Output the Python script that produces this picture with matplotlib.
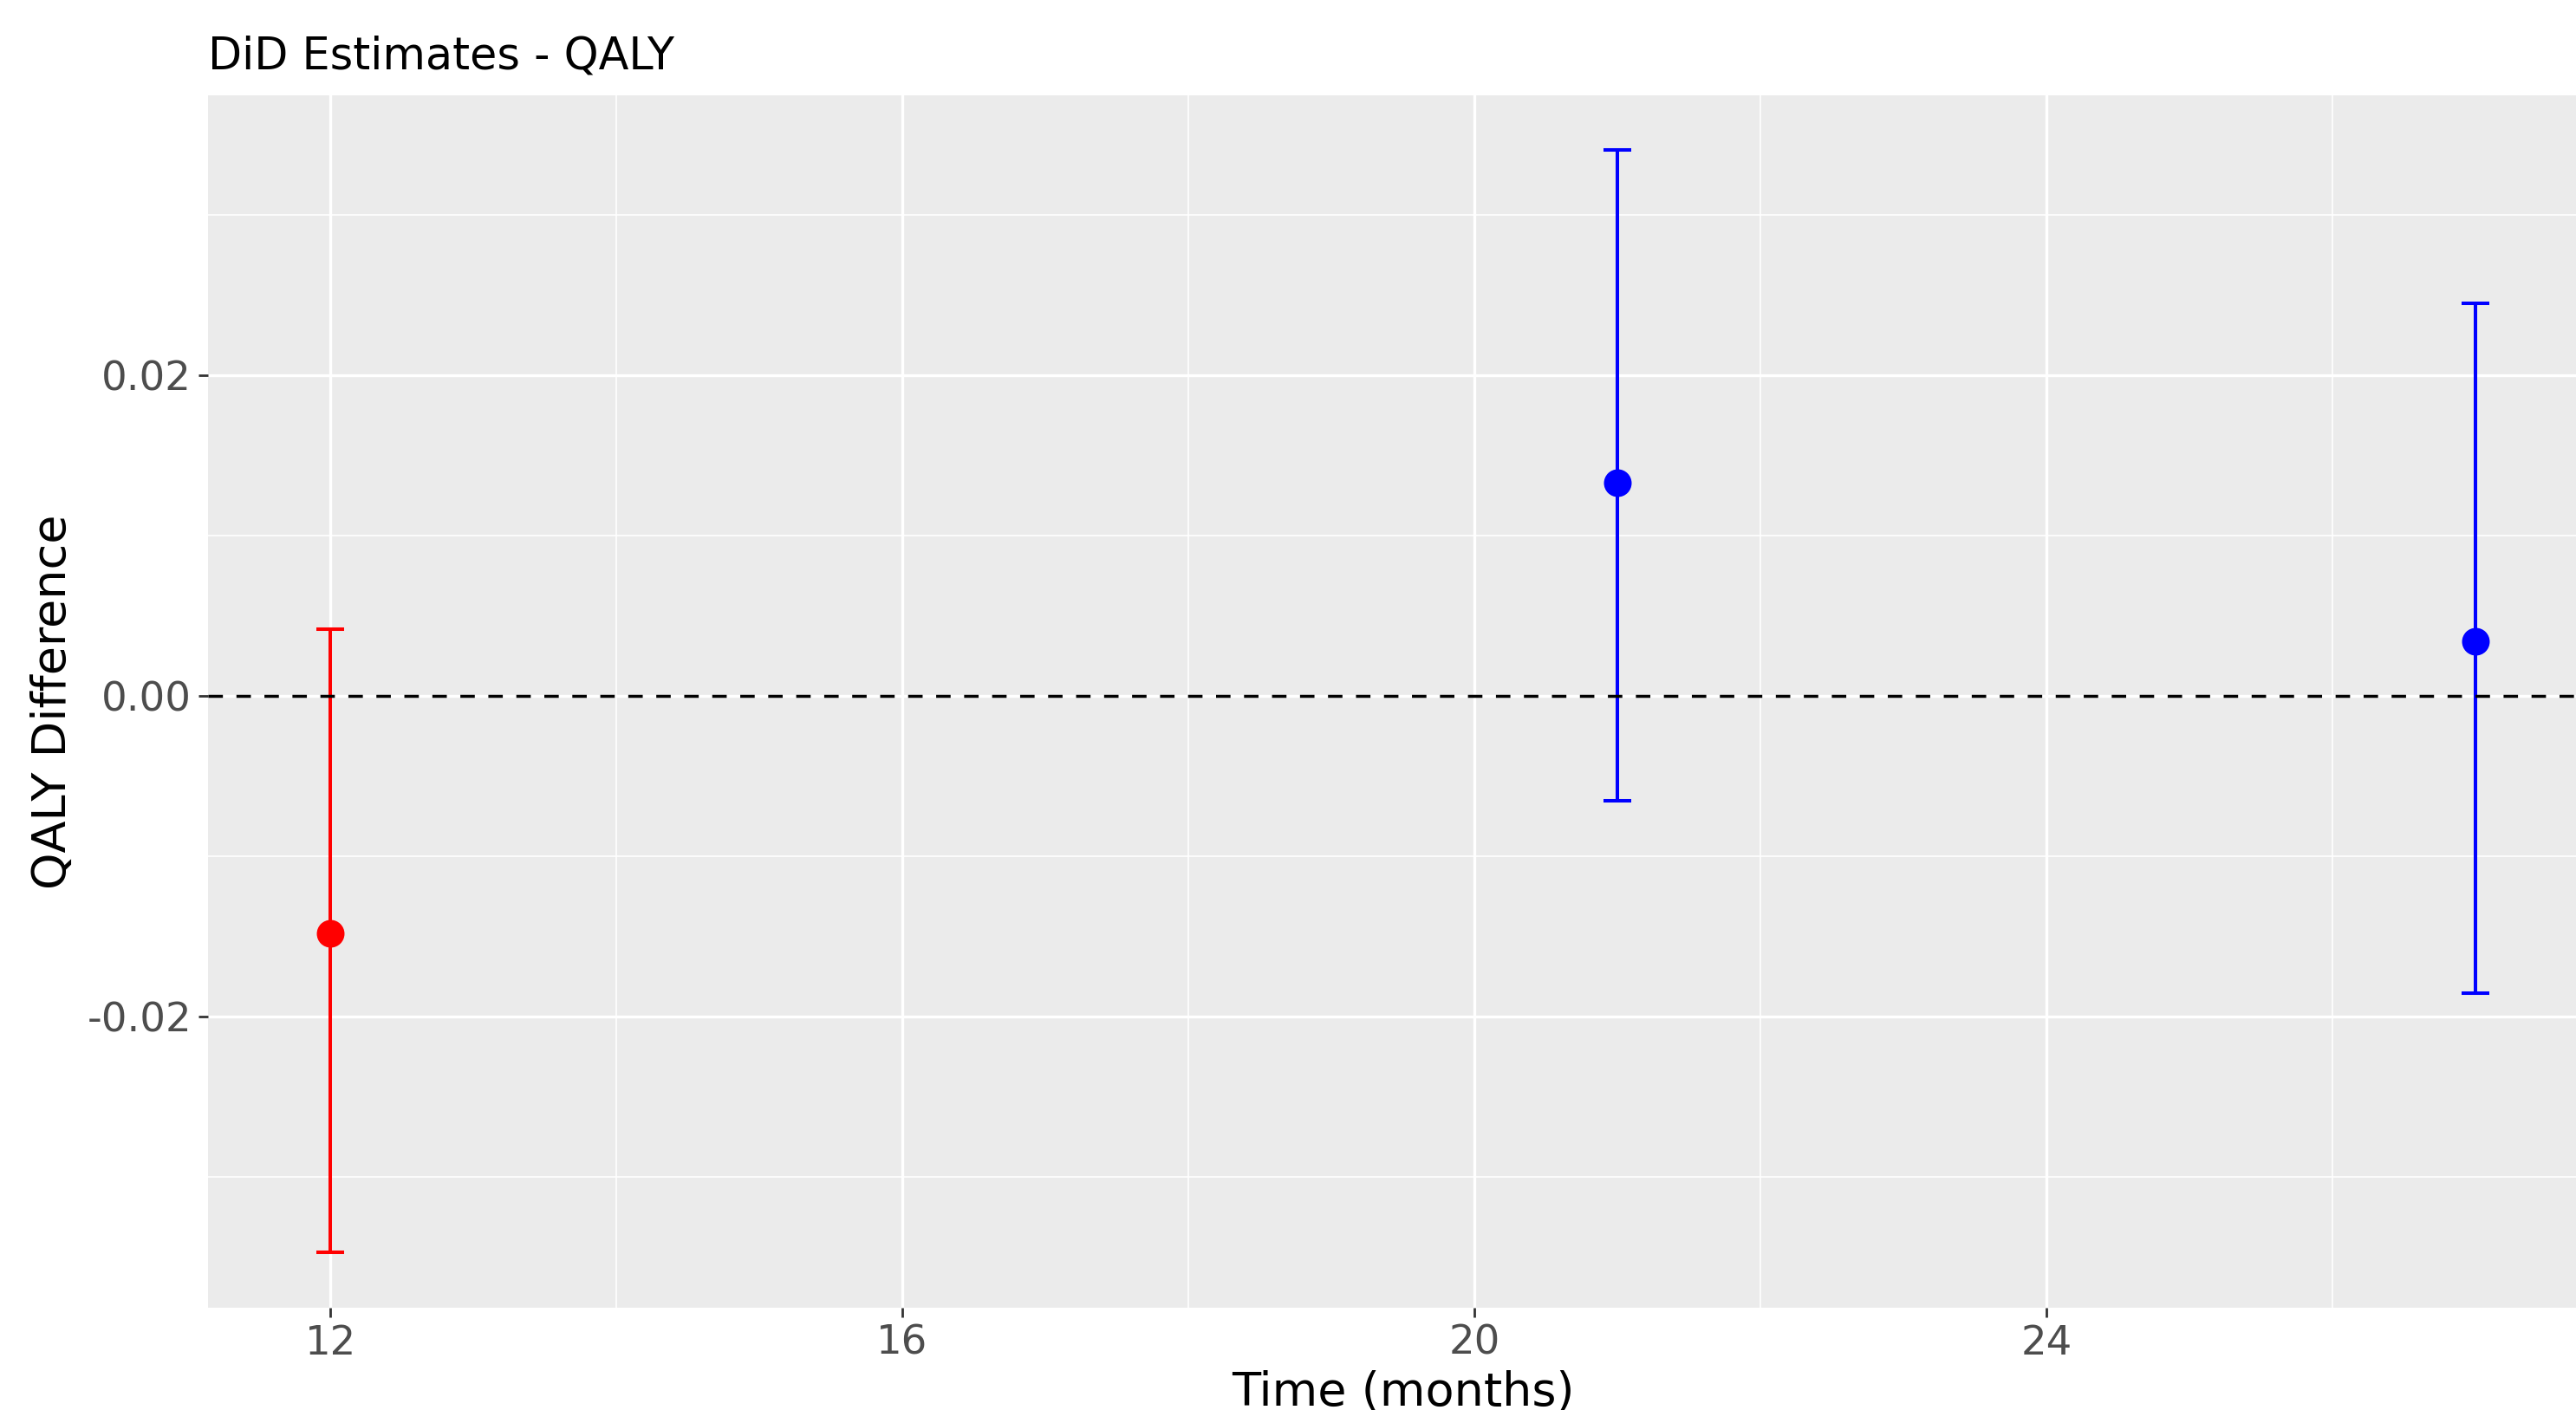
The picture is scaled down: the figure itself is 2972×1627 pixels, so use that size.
import matplotlib
matplotlib.use("Agg")
import matplotlib.pyplot as plt
from matplotlib.ticker import MultipleLocator

# DiD estimates by follow-up time
months = [12, 21, 27]
estimate = [-0.0148, 0.0133, 0.0034]
ci_low = [-0.0347, -0.0065, -0.0185]
ci_high = [0.0042, 0.0341, 0.0245]
point_colors = ["red", "blue", "blue"]

x_ticks = [12, 16, 20, 24]
y_ticks = [-0.02, 0.00, 0.02]
y_tick_labels = ["-0.02", "0.00", "0.02"]

plt.rcParams['font.family'] = ['DejaVu Sans']

W, H = 2972, 1627
dpi = 200
fig = plt.figure(figsize=(W / dpi, H / dpi), dpi=dpi)
fig.patch.set_facecolor("white")

# panel position in pixels (right edge runs past the image, like the original crop)
left, top, bottom, right = 240, 110, 1509, 2998
ax = fig.add_axes([left / W, 1 - bottom / H, (right - left) / W, (bottom - top) / H])
ax.set_facecolor("#EBEBEB")

for x, y, lo, hi, c in zip(months, estimate, ci_low, ci_high, point_colors):
    ax.errorbar(x, y, yerr=[[y - lo], [hi - y]], fmt="o", color=c, ecolor=c,
                markersize=10.5, elinewidth=1.45, capsize=5.9, capthick=1.45, zorder=2)

ax.axhline(0, color="black", linewidth=1.25, linestyle=(0, (4.8, 4.5)), zorder=3)

ax.set_xlim(11.145, 27.86)
ax.set_ylim(-0.03814, 0.03748)

ax.set_xticks(x_ticks)
ax.set_yticks(y_ticks)
ax.set_yticklabels(y_tick_labels)
ax.xaxis.set_minor_locator(MultipleLocator(2))
ax.yaxis.set_minor_locator(MultipleLocator(0.01))

ax.grid(which="major", color="white", linewidth=1.2, zorder=0)
ax.grid(which="minor", color="white", linewidth=0.6, zorder=0)
ax.set_axisbelow(True)

for s in ax.spines.values():
    s.set_visible(False)

ax.tick_params(which="major", length=4, width=1.0, color="#333333",
               labelcolor="#4D4D4D", labelsize=16.8, pad=2.8)
ax.tick_params(which="minor", length=0)

ax.set_xlabel("Time (months)", fontsize=19.5, color="black")
ax.xaxis.set_label_coords(0.5, -(1606 - bottom) / (bottom - top))
ax.xaxis.label.set_va("center")
ax.set_ylabel("QALY Difference", fontsize=19.5, color="black")
ax.yaxis.set_label_coords((61 - left) / (right - left), 0.5)
ax.yaxis.label.set_va("center")

fig.text(left / W, 1 - 79 / H, "DiD Estimates - QALY", fontsize=18.3,
         ha="left", va="baseline", color="black")

fig.savefig("out.png", dpi=dpi)
